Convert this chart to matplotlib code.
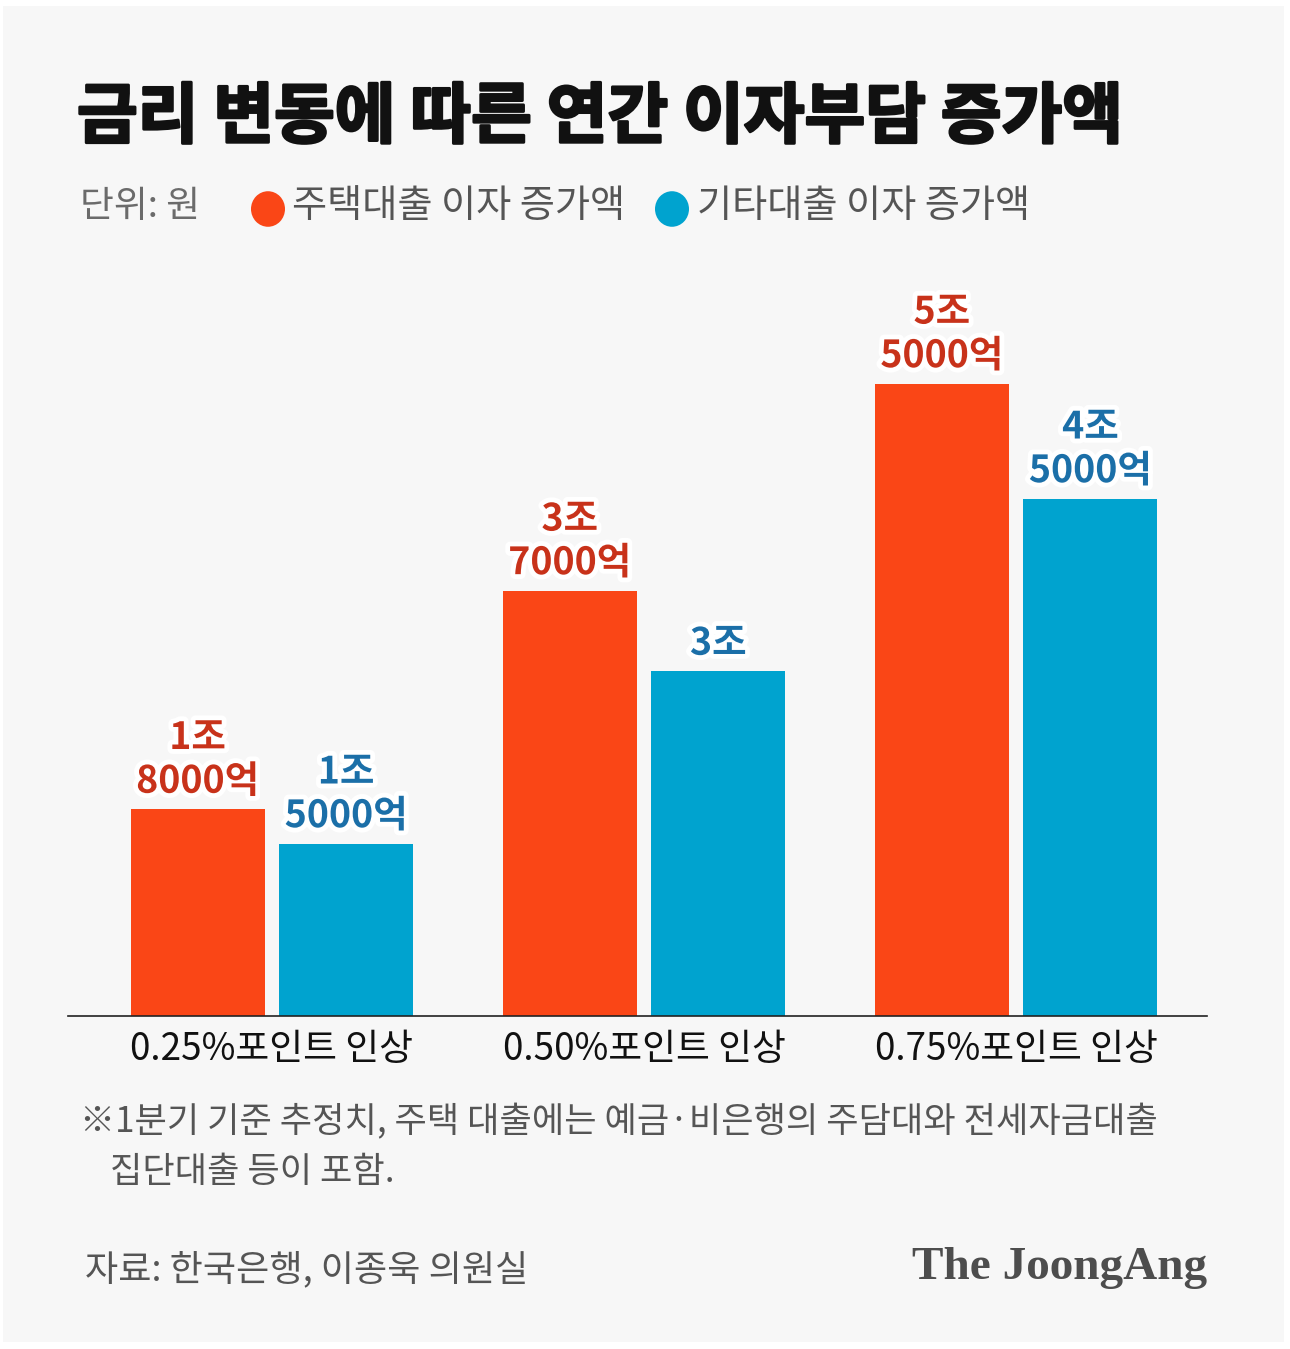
import matplotlib
matplotlib.use("Agg")
import matplotlib.pyplot as plt
import matplotlib.patheffects as pe
from matplotlib.patches import Rectangle, Circle
import numpy as np

plt.rcParams['font.family'] = ['Noto Sans CJK KR', 'DejaVu Sans']

# data (unit: 조원)
categories = ["0.25%포인트 인상", "0.50%포인트 인상", "0.75%포인트 인상"]
housing = [1.8, 3.7, 5.5]
other = [1.5, 3.0, 4.5]
series_names = ["주택대출 이자 증가액", "기타대출 이자 증가액"]

RED = "#fa4616"
BLUE = "#00a3cf"
RED_TXT = "#c8321a"
BLUE_TXT = "#1b6fa8"
BG = "#f7f7f7"

W, H = 1290, 1349
fig = plt.figure(figsize=(W / 100, H / 100), dpi=100, facecolor="white")


def fx(x):
    return x / W


def fy(y):
    return 1 - y / H


def fmt(v):
    jo = int(v)
    eok = int(round((v - jo) * 10000))
    if eok == 0:
        return f"{jo}조"
    return f"{jo}조\n{eok}억"


# light grey panel
fig.patches.append(Rectangle((fx(3), fy(1342)), fx(1284) - fx(3), fy(6) - fy(1342),
                             transform=fig.transFigure, facecolor=BG, edgecolor="none", zorder=-5))

# title (extra stroke to get close to the heavy weight)
fig.text(fx(77), fy(118), "금리 변동에 따른 연간 이자부담 증가액", fontsize=47.5, fontweight="heavy",
         color="#111111", va="center", ha="left",
         path_effects=[pe.withStroke(linewidth=2, foreground="#111111")])

# legend row
fig.text(fx(80), fy(207), "단위: 원", fontsize=26.5, color="#6b6b6b", va="center", ha="left")
for cx, col, name, tx in [(268, RED, series_names[0], 292), (672, BLUE, series_names[1], 697)]:
    fig.patches.append(Circle((fx(cx), fy(209)), 17 / W, transform=fig.transFigure,
                              facecolor=col, edgecolor="none"))
    fig.text(fx(tx), fy(207), name, fontsize=27.5, color="#555555", va="center", ha="left")

# bar axes
ax = fig.add_axes([fx(68), fy(1016), fx(1207) - fx(68), fy(316) - fy(1016)])
ax.set_facecolor("none")
x = np.arange(len(categories))
bw = 0.36
off = 0.1996
ax.bar(x - off, housing, bw, color=RED, zorder=2)
ax.bar(x + off, other, bw, color=BLUE, zorder=2)
ax.set_xlim(-0.548, 2.513)
ax.set_ylim(0, 700 / 115)

halo = [pe.withStroke(linewidth=7, foreground="white")]
for xi, v in zip(x - off, housing):
    ax.annotate(fmt(v), (xi, v), xytext=(0, 6), textcoords="offset points", ha="center", va="bottom",
                fontsize=27, fontweight="bold", color=RED_TXT, linespacing=1.15, path_effects=halo, zorder=3)
for xi, v in zip(x + off, other):
    ax.annotate(fmt(v), (xi, v), xytext=(0, 6), textcoords="offset points", ha="center", va="bottom",
                fontsize=27, fontweight="bold", color=BLUE_TXT, linespacing=1.15, path_effects=halo, zorder=3)

for s in ["top", "right", "left"]:
    ax.spines[s].set_visible(False)
ax.spines["bottom"].set_color("#222222")
ax.spines["bottom"].set_linewidth(1.2)
ax.set_yticks([])
ax.set_xticks(x)
ax.set_xticklabels(categories, fontsize=26.5, color="#111111")
ax.tick_params(axis="x", length=0, pad=10)

# footnote
fig.text(fx(80), fy(1122), "※1분기 기준 추정치, 주택 대출에는 예금·비은행의 주담대와 전세자금대출",
         fontsize=25.3, color="#555555", va="center", ha="left")
fig.text(fx(110), fy(1172), "집단대출 등이 포함.", fontsize=25.3, color="#555555", va="center", ha="left")

# source and logo
fig.text(fx(85), fy(1270), "자료: 한국은행, 이종욱 의원실", fontsize=26, color="#555555", va="center", ha="left")
fig.text(fx(1207), fy(1268), "The JoongAng", fontsize=34, fontweight="bold", family="Liberation Serif",
         color="#4d4d4d", va="center", ha="right")

fig.savefig("out.png", dpi=100, facecolor=fig.get_facecolor())
